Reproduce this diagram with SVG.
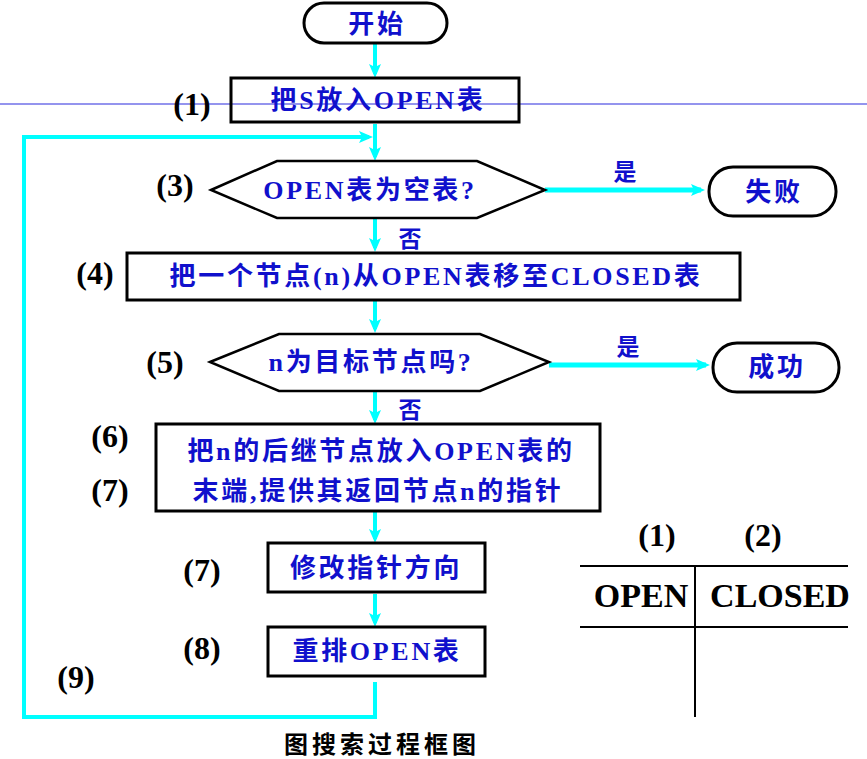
<svg xmlns="http://www.w3.org/2000/svg" width="867" height="759" viewBox="0 0 867 759">
<style>
.box{fill:none;stroke:#000;stroke-width:3}
.hex{fill:#fff;stroke:#000;stroke-width:2.5}
.t{font-family:"Liberation Serif","Noto Sans CJK SC",serif;font-weight:700;font-size:26px;fill:#1010CC;text-anchor:middle;dominant-baseline:central;letter-spacing:2.7px}
.lbl{font-family:"Liberation Serif","Noto Sans CJK SC",serif;font-weight:700;font-size:32px;fill:#000;text-anchor:middle;dominant-baseline:central}
.yn{font-family:"Noto Sans CJK SC",sans-serif;font-weight:700;font-size:23px;fill:#1010CC;text-anchor:middle;dominant-baseline:central}
.c{fill:none;stroke:#00FFFF;stroke-width:4}
.c5{fill:none;stroke:#00FFFF;stroke-width:5}
.tbl{stroke:#000;stroke-width:2}
.tt{font-family:"Liberation Serif",serif;font-weight:700;font-size:34px;fill:#000;text-anchor:middle;dominant-baseline:central}
.cap{font-family:"Noto Sans CJK SC",sans-serif;font-weight:700;font-size:24px;fill:#000;text-anchor:middle;dominant-baseline:central;letter-spacing:4px}
</style>
<defs>
<marker id="arr" markerUnits="userSpaceOnUse" markerWidth="16" markerHeight="16" viewBox="0 0 16 16" refX="10" refY="8" orient="auto">
<path d="M0,2 L14,8 L0,14 L3,8 Z" fill="#00FFFF"/>
</marker>
</defs>
<rect x="0" y="0" width="867" height="759" fill="#fff"/>
<line x1="0" y1="104" x2="867" y2="104" stroke="#9494EE" stroke-width="2"/>

<g id="connectors">
<line class="c" x1="375" y1="43" x2="375" y2="74" marker-end="url(#arr)"/>
<line class="c" x1="375" y1="124" x2="375" y2="157" marker-end="url(#arr)"/>
<line class="c" x1="375" y1="219" x2="375" y2="248" marker-end="url(#arr)"/>
<line class="c" x1="375" y1="301" x2="375" y2="329" marker-end="url(#arr)"/>
<line class="c" x1="375" y1="392" x2="375" y2="420" marker-end="url(#arr)"/>
<line class="c" x1="375" y1="512" x2="375" y2="539" marker-end="url(#arr)"/>
<line class="c" x1="375" y1="594" x2="375" y2="623" marker-end="url(#arr)"/>
<line class="c5" x1="545" y1="190" x2="701" y2="190" marker-end="url(#arr)"/>
<line class="c5" x1="549" y1="365" x2="706" y2="365" marker-end="url(#arr)"/>
<polyline class="c" points="375,682 375,717 24,717 24,137 369,137" marker-end="url(#arr)"/>
<text class="yn" x="625" y="170">是</text>
<text class="yn" x="628" y="345">是</text>
<text class="yn" x="410" y="237">否</text>
<text class="yn" x="410" y="408">否</text>
</g>

<g id="start">
<rect class="box" x="304" y="3" width="143" height="40" rx="20"/>
<text class="t" x="377" y="24">开始</text>
</g>
<g id="step1">
<rect class="box" x="231" y="78" width="288" height="44"/>
<text class="t" x="378" y="100">把S放入OPEN表</text>
</g>
<g id="step3">
<polygon class="hex" points="211,190 277,161 477,161 545,190 477,218 277,218"/>
<text class="t" x="370" y="190">OPEN表为空表?</text>
</g>
<g id="fail">
<rect class="box" x="709" y="167" width="127" height="49" rx="24"/>
<text class="t" x="774" y="192">失败</text>
</g>
<g id="step4">
<rect class="box" x="127" y="253" width="613" height="47"/>
<text class="t" x="436" y="276">把一个节点(n)从OPEN表移至CLOSED表</text>
</g>
<g id="step5">
<polygon class="hex" points="210,362 279,334 480,334 549,362 480,391 279,391"/>
<text class="t" x="371" y="362">n为目标节点吗?</text>
</g>
<g id="success">
<rect class="box" x="713" y="343" width="126" height="49" rx="24"/>
<text class="t" x="777" y="367">成功</text>
</g>
<g id="step6">
<rect class="box" x="156" y="424" width="444" height="87"/>
<text class="t" x="381" y="451">把n的后继节点放入OPEN表的</text>
<text class="t" x="378" y="491">末端,提供其返回节点n的指针</text>
</g>
<g id="step7">
<rect class="box" x="268" y="543" width="217" height="49"/>
<text class="t" x="376" y="568">修改指针方向</text>
</g>
<g id="step8">
<rect class="box" x="268" y="627" width="217" height="49"/>
<text class="t" x="377" y="651">重排OPEN表</text>
</g>

<g id="labels">
<text class="lbl" x="192" y="104">(1)</text>
<text class="lbl" x="175" y="185">(3)</text>
<text class="lbl" x="95" y="273">(4)</text>
<text class="lbl" x="165" y="362">(5)</text>
<text class="lbl" x="110" y="436">(6)</text>
<text class="lbl" x="110" y="490">(7)</text>
<text class="lbl" x="202" y="570">(7)</text>
<text class="lbl" x="202" y="648">(8)</text>
<text class="lbl" x="76" y="677">(9)</text>
</g>

<g id="table">
<line class="tbl" x1="580" y1="566" x2="848" y2="566"/>
<line class="tbl" x1="580" y1="627" x2="848" y2="627"/>
<line class="tbl" x1="695" y1="566" x2="695" y2="717"/>
<text class="lbl" x="657" y="535">(1)</text>
<text class="lbl" x="763" y="535">(2)</text>
<text class="tt" x="641" y="595">OPEN</text>
<text class="tt" x="780" y="595">CLOSED</text>
</g>

<text class="cap" x="382" y="742">图搜索过程框图</text>
</svg>
